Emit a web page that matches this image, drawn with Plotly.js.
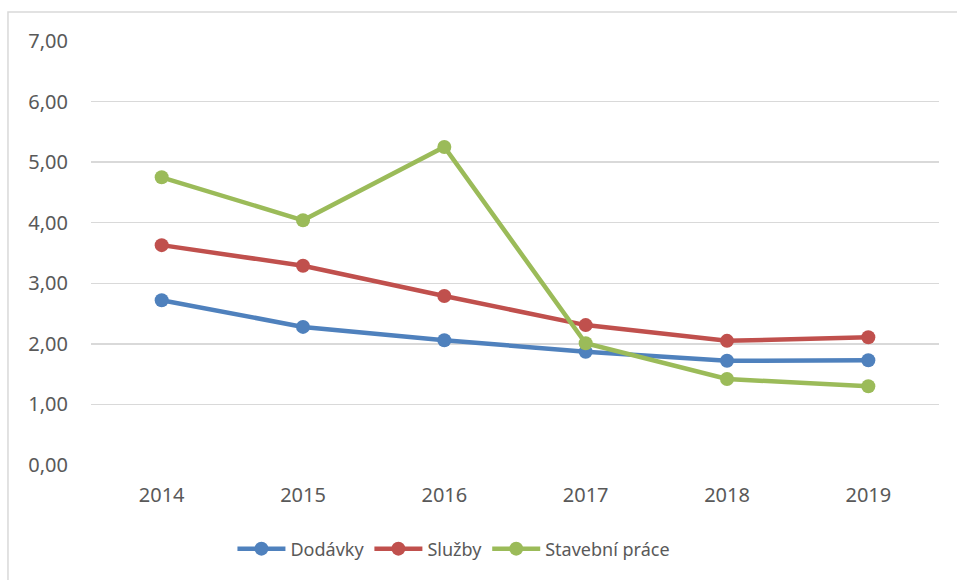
<!DOCTYPE html>
<html>
<head>
<meta charset="utf-8">
<script src="https://cdn.plot.ly/plotly-3.0.1.min.js"></script>
<style>html,body{margin:0;padding:0;background:#fff;}#chart{width:957px;height:580px;}</style>
</head>
<body>
<div id="chart"></div>
<script>
var years = ['2014', '2015', '2016', '2017', '2018', '2019'];
var dodavky = [2.72, 2.28, 2.06, 1.87, 1.72, 1.73];
var sluzby = [3.63, 3.29, 2.79, 2.31, 2.05, 2.11];
var stavebni = [4.75, 4.04, 5.25, 2.01, 1.42, 1.30];
var names = ['Dodávky', 'Služby', 'Stavební práce'];
var colors = ['#4F81BD', '#C0504D', '#9BBB59'];
var yTicks = [0, 1, 2, 3, 4, 5, 6, 7];
var yTickText = ['0,00', '1,00', '2,00', '3,00', '4,00', '5,00', '6,00', '7,00'];

var series = [dodavky, sluzby, stavebni];
var traces = series.map(function (s, i) {
  return {
    x: years, y: s, name: names[i], type: 'scatter', mode: 'lines+markers',
    line: {color: colors[i], width: 4.5},
    marker: {color: colors[i], size: 14}
  };
});

var font = 'Noto Sans, DejaVu Sans, sans-serif';
var fs = 20;
var layout = {
  width: 957, height: 580,
  margin: {l: 91, r: 18, t: 41, b: 115},
  paper_bgcolor: '#fff', plot_bgcolor: '#fff',
  font: {family: font, size: fs, color: '#595959'},
  showlegend: true,
  legend: {orientation: 'h', x: 0.428, xanchor: 'center', y: -0.198, yanchor: 'middle',
           itemwidth: 48,
           font: {family: font, size: 18, color: '#595959'}, traceorder: 'normal'},
  xaxis: {type: 'category', range: [-0.5, 5.5], showgrid: false, zeroline: false, showline: false,
          ticks: '', ticklabelstandoff: 16, tickfont: {family: font, size: fs, color: '#595959'},
          fixedrange: true},
  yaxis: {range: [0, 7], tickvals: yTicks, ticktext: yTickText, showgrid: true,
          gridcolor: '#d9d9d9', gridwidth: 1.5, zeroline: false, showline: false,
          ticks: '', ticklabelstandoff: 22, tickfont: {family: font, size: fs, color: '#595959'},
          fixedrange: true},
  shapes: [{type: 'rect', xref: 'paper', yref: 'paper', x0: -0.0979, x1: 1.2, y0: -0.5, y1: 1.0684,
            line: {color: '#d9d9d9', width: 1.5}, fillcolor: 'rgba(0,0,0,0)', layer: 'below'}]
};
Plotly.newPlot('chart', traces, layout, {displayModeBar: false, staticPlot: true});
</script>
</body>
</html>
